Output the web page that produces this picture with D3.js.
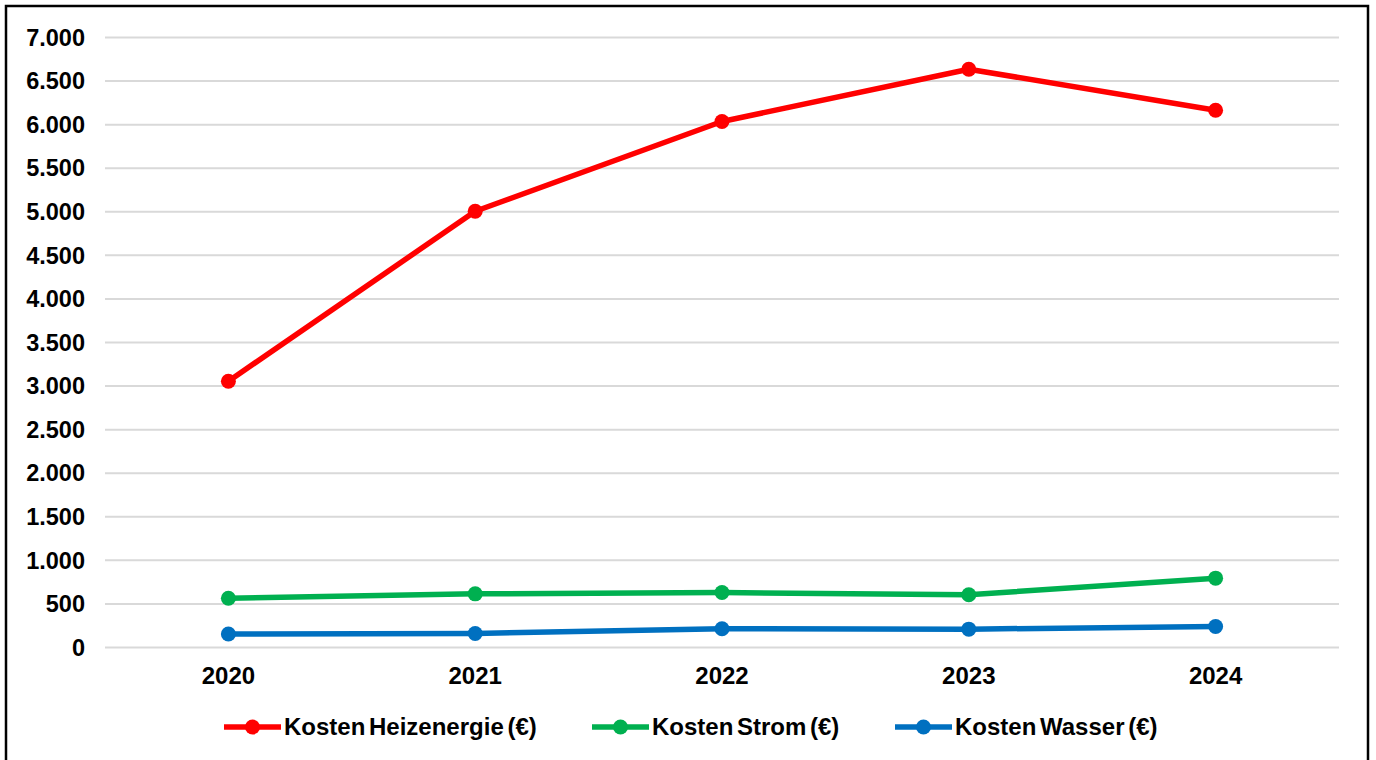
<!DOCTYPE html>
<html><head><meta charset="utf-8">
<script src="https://cdn.jsdelivr.net/npm/d3@7"></script>
<style>html,body{margin:0;padding:0;background:#fff;}svg{display:block;}</style>
</head><body>
<svg id="chart" width="1376" height="760"></svg>
<script>
const years = ["2020","2021","2022","2023","2024"];
const heizenergie = [3050, 5000, 6030, 6630, 6160];
const strom = [560, 610, 625, 600, 790];
const wasser = [150, 155, 210, 205, 235];
const yTicks = [0,500,1000,1500,2000,2500,3000,3500,4000,4500,5000,5500,6000,6500,7000];
const seriesNames = ["Kosten Heizenergie (€)","Kosten Strom (€)","Kosten Wasser (€)"];
const seriesColors = ["#ff0000","#00b050","#0070c0"];

const series = [heizenergie, strom, wasser].map((v,i)=>({name:seriesNames[i], color:seriesColors[i], values:v}));

const svg = d3.select("#chart");
const font = "'Liberation Sans', Arial, sans-serif";

svg.append("rect").attr("x",6).attr("y",6).attr("width",1362).attr("height",800)
  .attr("fill","#fff").attr("stroke","#000").attr("stroke-width",2.5);

const x = d3.scaleBand().domain(years).range([105,1339]);
const y = d3.scaleLinear().domain([0,7000]).range([647,37]);
const fmt = d3.formatLocale({decimal:",",thousands:".",grouping:[3],currency:["","€"]}).format(",");

const yAxis = svg.append("g").attr("transform","translate(105,0)")
  .call(d3.axisLeft(y).tickValues(yTicks).tickSize(-1234).tickFormat(fmt));
yAxis.select(".domain").remove();
yAxis.selectAll(".tick line").attr("stroke","#d9d9d9").attr("stroke-width",2);
yAxis.selectAll(".tick text").attr("x",-20).attr("dy","0.35em")
  .attr("font-family",font).attr("font-weight","bold").attr("font-size",23.5).attr("fill","#000");

const xAxis = svg.append("g").attr("transform","translate(0,647)")
  .call(d3.axisBottom(x).tickSize(0));
xAxis.select(".domain").remove();
xAxis.selectAll(".tick text").attr("dy",0).attr("y",37)
  .attr("font-family",font).attr("font-weight","bold").attr("font-size",24).attr("fill","#000");

const line = d3.line().x((d,i)=>x(years[i])+x.bandwidth()/2).y(d=>y(d));

const g = svg.append("g");
series.forEach(s=>{
  g.append("path").attr("d",line(s.values)).attr("fill","none")
    .attr("stroke",s.color).attr("stroke-width",5.5).attr("stroke-linejoin","round");
  g.selectAll(null).data(s.values).enter().append("circle")
    .attr("cx",(d,i)=>x(years[i])+x.bandwidth()/2).attr("cy",d=>y(d)).attr("r",7.5)
    .attr("fill",s.color);
});

// legend
const legendX = [224, 592, 895];
const ly = 727;
series.forEach((s,i)=>{
  const lg = svg.append("g").attr("transform",`translate(${legendX[i]},${ly})`);
  lg.append("line").attr("x1",0).attr("x2",57).attr("y1",0).attr("y2",0)
    .attr("stroke",s.color).attr("stroke-width",5.5);
  lg.append("circle").attr("cx",28.5).attr("cy",0).attr("r",7.5).attr("fill",s.color);
  lg.append("text").attr("x",60).attr("y",0).attr("dy","0.35em")
    .attr("font-family",font).attr("font-weight","bold").attr("font-size",24)
    .attr("word-spacing","-3").attr("fill","#000").text(s.name);
});
</script>
</body></html>
